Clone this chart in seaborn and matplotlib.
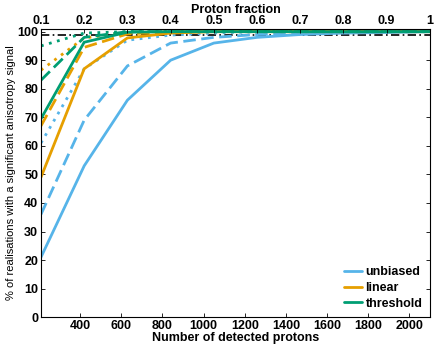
import numpy as np
import pandas as pd
import matplotlib
matplotlib.use("Agg")
import matplotlib.pyplot as plt
from matplotlib.lines import Line2D
import seaborn as sns

# Data
N_TOTAL = 2100
fraction = [0.1, 0.2, 0.3, 0.4, 0.5, 0.6, 0.7, 0.8, 0.9, 1.0]

unbiased_solid = [21, 53, 76, 90, 96, 98, 99, 99.5, 99.7, 100]
unbiased_dashed = [36, 69, 88, 96, 98, 99, 99.5, 100, 100, 100]
unbiased_dotted = [61, 87, 97, 98.8, 99.5, 100, 100, 100, 100, 100]
linear_solid = [49, 87, 97.8, 99.5, 100, 100, 100, 100, 100, 100]
linear_dashed = [67, 94.5, 99.2, 100, 100, 100, 100, 100, 100, 100]
linear_dotted = [86.5, 97.8, 99.6, 100, 100, 100, 100, 100, 100, 100]
threshold_solid = [69.5, 96.3, 99.8, 100, 100, 100, 100, 100, 100, 100]
threshold_dashed = [83, 98, 100, 100, 100, 100, 100, 100, 100, 100]
threshold_dotted = [95, 99.5, 100, 100, 100, 100, 100, 100, 100, 100]

reference_level = 99

series = {
    ("unbiased", "solid"): unbiased_solid,
    ("unbiased", "dashed"): unbiased_dashed,
    ("unbiased", "dotted"): unbiased_dotted,
    ("linear", "solid"): linear_solid,
    ("linear", "dashed"): linear_dashed,
    ("linear", "dotted"): linear_dotted,
    ("threshold", "solid"): threshold_solid,
    ("threshold", "dashed"): threshold_dashed,
    ("threshold", "dotted"): threshold_dotted,
}

rows = []
for (bias, kind), vals in series.items():
    for f, v in zip(fraction, vals):
        rows.append({"protons": f * N_TOTAL, "value": v, "bias": bias, "kind": kind})
df = pd.DataFrame(rows)

palette = {"unbiased": "#56B4E9", "linear": "#E69F00", "threshold": "#009E73"}
dashes = {"solid": "", "dashed": (4.5, 2), "dotted": (1, 2)}

sns.set_style("ticks", {"axes.edgecolor": "black", "text.color": "black",
                        "xtick.color": "black", "ytick.color": "black",
                        "axes.labelcolor": "black"})
plt.rcParams["font.family"] = ["Liberation Sans", "DejaVu Sans"]
plt.rcParams["font.weight"] = "bold"
plt.rcParams["xtick.direction"] = "in"
plt.rcParams["ytick.direction"] = "in"

fig = plt.figure(figsize=(4.36, 3.47), dpi=100)
ax = fig.add_axes([0.094, 0.086, 0.892, 0.831])

sns.lineplot(data=df, x="protons", y="value", hue="bias", style="kind",
             palette=palette, dashes=dashes, linewidth=2, legend=False, ax=ax)
ax.axhline(reference_level, color="black", ls=(0, (5, 2, 1, 2)), lw=1.2, zorder=0)

ax.set_xlim(210, 2100)
ax.set_ylim(0, 101)
ax.set_xticks(range(400, 2001, 200))
ax.set_yticks(range(0, 101, 10))
ax.tick_params(labelsize=9, length=3, width=0.6, right=True, top=False, pad=2)
for lab in ax.get_xticklabels() + ax.get_yticklabels():
    lab.set_fontweight("bold")
ax.set_xlabel("Number of detected protons", fontsize=9, fontweight="bold", labelpad=0)
ax.set_ylabel("% of realisations with a significant anisotropy signal",
              fontsize=8, fontweight="medium", labelpad=1)
for s in ax.spines.values():
    s.set_visible(True)
    s.set_linewidth(0.6)

top = ax.twiny()
top.set_xlim(0.1, 1.0)
top.set_xticks(fraction)
top.set_xticklabels(["0.1", "0.2", "0.3", "0.4", "0.5", "0.6", "0.7", "0.8", "0.9", "1"],
                    fontsize=9, fontweight="bold")
top.tick_params(direction="in", length=3, width=0.6, pad=1)
top.set_xlabel("Proton fraction", fontsize=9, fontweight="bold", labelpad=2)

handles = [Line2D([0], [0], color=palette[k], lw=2) for k in palette]
ax.legend(handles, list(palette.keys()), loc="lower right", frameon=False,
          handlelength=1.4, handletextpad=0.3, labelspacing=0.3,
          borderaxespad=0.2, prop={"weight": "bold", "size": 9})

fig.savefig("out.png", dpi=100)
